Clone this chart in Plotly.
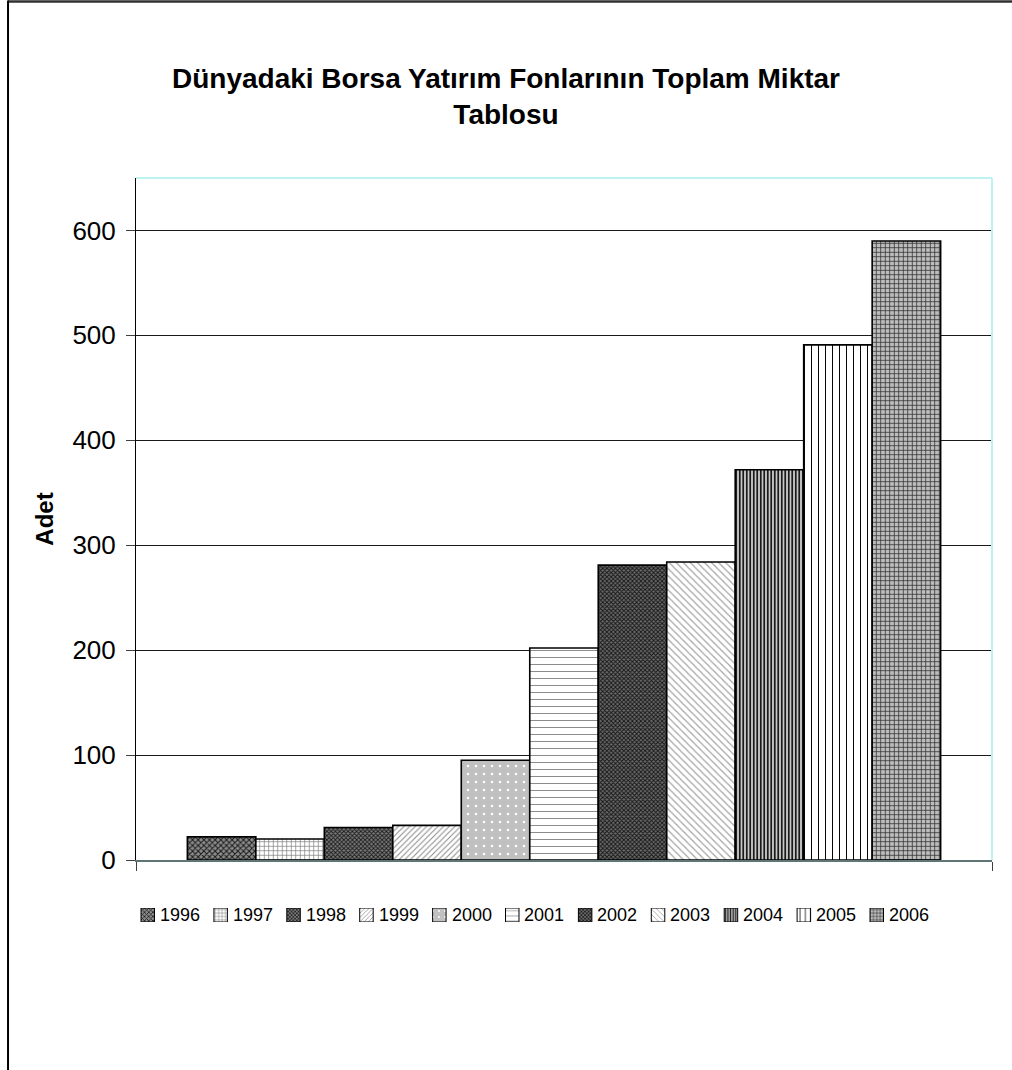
import plotly.graph_objects as go

# Number of exchange traded funds worldwide, by year
years = ["1996", "1997", "1998", "1999", "2000", "2001",
         "2002", "2003", "2004", "2005", "2006"]
counts = [22, 20, 31, 33, 95, 202, 281, 284, 372, 491, 590]

# Monochrome fill patterns per year
pat_shape = ["x", "+", "x", "/", ".", "-", "x", "\\", "|", "|", "+"]
pat_bg = ["#8c8c8c", "#ffffff", "#7a7a7a", "#ffffff", "#c0c0c0", "#ffffff",
          "#6a6a6a", "#ffffff", "#ffffff", "#ffffff", "#bdbdbd"]
pat_fg = ["#1a1a1a", "#7a7a7a", "#1a1a1a", "#8a8a8a", "#ffffff", "#8a8a8a",
          "#141414", "#a0a0a0", "#1a1a1a", "#000000", "#2a2a2a"]
pat_size = [4, 4.5, 3, 4, 8, 7, 3, 5, 3.5, 7, 4.5]
pat_solidity = [0.45, 0.28, 0.5, 0.25, 0.08, 0.14, 0.5, 0.22, 0.62, 0.14, 0.3]

font_family = "Liberation Sans, Arial, sans-serif"
swatch_w = 0.185

fig = go.Figure()

for i, (yr, val) in enumerate(zip(years, counts)):
    pattern = dict(shape=pat_shape[i], bgcolor=pat_bg[i], fgcolor=pat_fg[i],
                   size=pat_size[i], solidity=pat_solidity[i], fillmode="replace")
    # main grouped bar for this year
    fig.add_trace(go.Bar(
        x=["Adet"], y=[val], name=yr, showlegend=False,
        marker=dict(color=pat_bg[i], line=dict(color="#000000", width=1.6),
                    pattern=pattern),
        xaxis="x", yaxis="y",
    ))
    # matching swatch in the legend strip
    small = dict(pattern, size=max(pat_size[i] * 0.75, 2.5))
    fig.add_trace(go.Bar(
        x=[i], y=[1], width=[swatch_w], offset=[-swatch_w / 2],
        name=yr, showlegend=False, hoverinfo="skip",
        marker=dict(color=pat_bg[i], line=dict(color="#000000", width=1),
                    pattern=small),
        xaxis="x2", yaxis="y2",
    ))

annotations = [
    dict(text=yr, x=k + 0.14, y=0.5, xref="x2", yref="y2",
         xanchor="left", yanchor="middle", showarrow=False,
         font=dict(size=18, family=font_family, color="#000000"))
    for k, yr in enumerate(years)
]

fig.update_layout(
    width=1012, height=1070,
    margin=dict(l=136, r=20, t=178, b=140),
    paper_bgcolor="#ffffff", plot_bgcolor="#ffffff",
    barmode="group", bargap=0.12, bargroupgap=0,
    font=dict(family=font_family, color="#000000"),
    title=dict(
        text="<b>Dünyadaki Borsa Yatırım Fonlarının Toplam Miktar<br>Tablosu</b>",
        x=0.5, xref="container", xanchor="center",
        y=1 - 88 / 1070, yanchor="middle",
        font=dict(size=28, family=font_family, color="#000000"),
    ),
    showlegend=False,
    xaxis=dict(
        type="category", showticklabels=False,
        showline=True, linecolor="#5f7676", linewidth=2,
        ticks="outside", tickson="boundaries", ticklen=9,
        tickcolor="#404040", showgrid=False, zeroline=False,
        fixedrange=True, anchor="y",
    ),
    yaxis=dict(
        domain=[70 / 752, 1],
        range=[0, 650], dtick=100, tick0=0,
        showline=True, linecolor="#000000", linewidth=1,
        ticks="outside", ticklen=9, tickcolor="#404040",
        ticklabelstandoff=5,
        tickfont=dict(size=26, family=font_family),
        showgrid=True, gridcolor="#1a1a1a", gridwidth=1,
        zeroline=False,
        title=dict(text="<b>Adet</b>", standoff=12,
                   font=dict(size=24, family=font_family)),
        fixedrange=True, anchor="x",
    ),
    xaxis2=dict(
        range=[-0.1612, 11.581], visible=False, fixedrange=True, anchor="y2",
    ),
    yaxis2=dict(
        domain=[8 / 752, 22 / 752], range=[0, 1], visible=False,
        fixedrange=True, anchor="x2",
    ),
    annotations=annotations,
    shapes=[
        # light cyan plot-area border on the top and right
        dict(type="line", xref="x domain", yref="y domain", x0=0, x1=1, y0=1, y1=1,
             line=dict(color="#bdf2f2", width=2)),
        dict(type="line", xref="x domain", yref="y domain", x0=1, x1=1, y0=0, y1=1,
             line=dict(color="#bdf2f2", width=2)),
        # outer chart frame
        dict(type="line", xref="paper", yref="paper",
             x0=-0.1495, x1=1.03, y0=1.2347, y1=1.2347,
             line=dict(color="#303030", width=2.5)),
        dict(type="line", xref="paper", yref="paper",
             x0=-0.1495, x1=-0.1495, y0=-0.2, y1=1.236,
             line=dict(color="#000000", width=2)),
    ],
)

fig.write_html("out.html")
